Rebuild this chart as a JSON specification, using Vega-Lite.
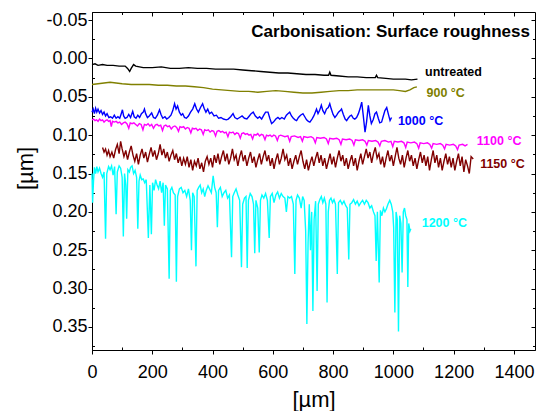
{
"$schema":"https://vega.github.io/schema/vega-lite/v6.json",
"width":443,"height":338,
"autosize":"none",
"padding":{"left":92,"top":12,"right":1,"bottom":61},
"background":"white",
"config":{"view":{"stroke":"black","strokeWidth":1},"font":"Liberation Sans",
 "axis":{"grid":false,"domainColor":"black","tickColor":"black","labelColor":"black","titleColor":"black","labelFontSize":18,"titleFontSize":22,"titleFontWeight":"normal","labelFlush":false,"labelOverlap":false,"tickWidth":1,"domainWidth":1}},
"title":{"text":"Carbonisation: Surface roughness","anchor":"end","frame":"group","fontSize":17,"fontWeight":"bold","color":"black","baseline":"top","offset":-30,"dx":-5},
"datasets":{
"lines":[
{"s":"untreated","x":0,"y":0.008},{"s":"untreated","x":10,"y":0.007},{"s":"untreated","x":20,"y":0.009},{"s":"untreated","x":35,"y":0.008},{"s":"untreated","x":50,"y":0.009},{"s":"untreated","x":70,"y":0.009},{"s":"untreated","x":90,"y":0.010},{"s":"untreated","x":110,"y":0.010},{"s":"untreated","x":118,"y":0.013},{"s":"untreated","x":125,"y":0.017},{"s":"untreated","x":130,"y":0.013},{"s":"untreated","x":138,"y":0.008},{"s":"untreated","x":145,"y":0.010},{"s":"untreated","x":170,"y":0.012},{"s":"untreated","x":200,"y":0.012},{"s":"untreated","x":230,"y":0.011},{"s":"untreated","x":260,"y":0.013},{"s":"untreated","x":290,"y":0.013},{"s":"untreated","x":320,"y":0.012},{"s":"untreated","x":350,"y":0.013},{"s":"untreated","x":380,"y":0.013},{"s":"untreated","x":410,"y":0.014},{"s":"untreated","x":440,"y":0.014},{"s":"untreated","x":470,"y":0.014},{"s":"untreated","x":500,"y":0.015},{"s":"untreated","x":530,"y":0.016},{"s":"untreated","x":560,"y":0.017},{"s":"untreated","x":590,"y":0.018},{"s":"untreated","x":620,"y":0.019},{"s":"untreated","x":650,"y":0.019},{"s":"untreated","x":680,"y":0.020},{"s":"untreated","x":710,"y":0.021},{"s":"untreated","x":740,"y":0.021},{"s":"untreated","x":770,"y":0.022},{"s":"untreated","x":785,"y":0.022},{"s":"untreated","x":789,"y":0.018},{"s":"untreated","x":793,"y":0.022},{"s":"untreated","x":820,"y":0.023},{"s":"untreated","x":850,"y":0.024},{"s":"untreated","x":880,"y":0.024},{"s":"untreated","x":910,"y":0.025},{"s":"untreated","x":940,"y":0.025},{"s":"untreated","x":944,"y":0.022},{"s":"untreated","x":948,"y":0.025},{"s":"untreated","x":975,"y":0.026},{"s":"untreated","x":1000,"y":0.027},{"s":"untreated","x":1020,"y":0.027},{"s":"untreated","x":1040,"y":0.027},{"s":"untreated","x":1060,"y":0.028},{"s":"untreated","x":1080,"y":0.027},
{"s":"900","x":0,"y":0.034},{"s":"900","x":20,"y":0.033},{"s":"900","x":40,"y":0.032},{"s":"900","x":60,"y":0.031},{"s":"900","x":80,"y":0.032},{"s":"900","x":100,"y":0.033},{"s":"900","x":130,"y":0.034},{"s":"900","x":160,"y":0.034},{"s":"900","x":190,"y":0.034},{"s":"900","x":220,"y":0.035},{"s":"900","x":250,"y":0.035},{"s":"900","x":280,"y":0.036},{"s":"900","x":310,"y":0.036},{"s":"900","x":340,"y":0.037},{"s":"900","x":370,"y":0.038},{"s":"900","x":400,"y":0.040},{"s":"900","x":430,"y":0.041},{"s":"900","x":460,"y":0.042},{"s":"900","x":490,"y":0.043},{"s":"900","x":520,"y":0.043},{"s":"900","x":550,"y":0.044},{"s":"900","x":580,"y":0.043},{"s":"900","x":610,"y":0.042},{"s":"900","x":640,"y":0.043},{"s":"900","x":670,"y":0.044},{"s":"900","x":700,"y":0.045},{"s":"900","x":730,"y":0.045},{"s":"900","x":760,"y":0.044},{"s":"900","x":790,"y":0.043},{"s":"900","x":820,"y":0.042},{"s":"900","x":850,"y":0.042},{"s":"900","x":880,"y":0.041},{"s":"900","x":910,"y":0.041},{"s":"900","x":940,"y":0.041},{"s":"900","x":970,"y":0.041},{"s":"900","x":1000,"y":0.041},{"s":"900","x":1020,"y":0.042},{"s":"900","x":1040,"y":0.043},{"s":"900","x":1055,"y":0.041},{"s":"900","x":1068,"y":0.038},{"s":"900","x":1078,"y":0.037},
{"s":"1000","x":0,"y":0.070},{"s":"1000","x":4,"y":0.066},{"s":"1000","x":8,"y":0.072},{"s":"1000","x":12,"y":0.065},{"s":"1000","x":16,"y":0.070},{"s":"1000","x":20,"y":0.066},{"s":"1000","x":25,"y":0.071},{"s":"1000","x":30,"y":0.068},{"s":"1000","x":35,"y":0.073},{"s":"1000","x":40,"y":0.070},{"s":"1000","x":45,"y":0.075},{"s":"1000","x":50,"y":0.072},{"s":"1000","x":56,"y":0.077},{"s":"1000","x":62,"y":0.076},{"s":"1000","x":68,"y":0.078},{"s":"1000","x":74,"y":0.074},{"s":"1000","x":80,"y":0.078},{"s":"1000","x":86,"y":0.076},{"s":"1000","x":92,"y":0.078},{"s":"1000","x":97,"y":0.072},{"s":"1000","x":101,"y":0.067},{"s":"1000","x":105,"y":0.075},{"s":"1000","x":110,"y":0.078},{"s":"1000","x":116,"y":0.077},{"s":"1000","x":122,"y":0.073},{"s":"1000","x":128,"y":0.077},{"s":"1000","x":135,"y":0.069},{"s":"1000","x":140,"y":0.076},{"s":"1000","x":146,"y":0.078},{"s":"1000","x":152,"y":0.074},{"s":"1000","x":158,"y":0.077},{"s":"1000","x":164,"y":0.072},{"s":"1000","x":170,"y":0.070},{"s":"1000","x":174,"y":0.066},{"s":"1000","x":178,"y":0.072},{"s":"1000","x":184,"y":0.077},{"s":"1000","x":190,"y":0.075},{"s":"1000","x":198,"y":0.071},{"s":"1000","x":204,"y":0.077},{"s":"1000","x":210,"y":0.078},{"s":"1000","x":217,"y":0.074},{"s":"1000","x":224,"y":0.067},{"s":"1000","x":229,"y":0.073},{"s":"1000","x":235,"y":0.078},{"s":"1000","x":242,"y":0.076},{"s":"1000","x":248,"y":0.079},{"s":"1000","x":255,"y":0.077},{"s":"1000","x":262,"y":0.074},{"s":"1000","x":268,"y":0.068},{"s":"1000","x":274,"y":0.059},{"s":"1000","x":279,"y":0.066},{"s":"1000","x":284,"y":0.062},{"s":"1000","x":290,"y":0.070},{"s":"1000","x":296,"y":0.074},{"s":"1000","x":301,"y":0.072},{"s":"1000","x":307,"y":0.077},{"s":"1000","x":313,"y":0.078},{"s":"1000","x":320,"y":0.075},{"s":"1000","x":327,"y":0.070},{"s":"1000","x":334,"y":0.066},{"s":"1000","x":341,"y":0.059},{"s":"1000","x":347,"y":0.066},{"s":"1000","x":353,"y":0.070},{"s":"1000","x":360,"y":0.064},{"s":"1000","x":367,"y":0.059},{"s":"1000","x":372,"y":0.065},{"s":"1000","x":378,"y":0.070},{"s":"1000","x":384,"y":0.066},{"s":"1000","x":390,"y":0.072},{"s":"1000","x":397,"y":0.070},{"s":"1000","x":405,"y":0.075},{"s":"1000","x":413,"y":0.074},{"s":"1000","x":420,"y":0.078},{"s":"1000","x":428,"y":0.077},{"s":"1000","x":436,"y":0.079},{"s":"1000","x":446,"y":0.080},{"s":"1000","x":452,"y":0.079},{"s":"1000","x":460,"y":0.076},{"s":"1000","x":468,"y":0.072},{"s":"1000","x":474,"y":0.077},{"s":"1000","x":482,"y":0.079},{"s":"1000","x":490,"y":0.077},{"s":"1000","x":498,"y":0.075},{"s":"1000","x":506,"y":0.078},{"s":"1000","x":514,"y":0.079},{"s":"1000","x":522,"y":0.075},{"s":"1000","x":528,"y":0.072},{"s":"1000","x":535,"y":0.070},{"s":"1000","x":542,"y":0.075},{"s":"1000","x":550,"y":0.078},{"s":"1000","x":556,"y":0.076},{"s":"1000","x":563,"y":0.079},{"s":"1000","x":570,"y":0.074},{"s":"1000","x":576,"y":0.070},{"s":"1000","x":584,"y":0.070},{"s":"1000","x":590,"y":0.078},{"s":"1000","x":596,"y":0.085},{"s":"1000","x":602,"y":0.083},{"s":"1000","x":610,"y":0.079},{"s":"1000","x":617,"y":0.077},{"s":"1000","x":623,"y":0.079},{"s":"1000","x":630,"y":0.077},{"s":"1000","x":638,"y":0.079},{"s":"1000","x":645,"y":0.074},{"s":"1000","x":650,"y":0.072},{"s":"1000","x":656,"y":0.070},{"s":"1000","x":662,"y":0.075},{"s":"1000","x":668,"y":0.078},{"s":"1000","x":674,"y":0.080},{"s":"1000","x":679,"y":0.081},{"s":"1000","x":685,"y":0.077},{"s":"1000","x":692,"y":0.074},{"s":"1000","x":700,"y":0.072},{"s":"1000","x":706,"y":0.076},{"s":"1000","x":712,"y":0.080},{"s":"1000","x":718,"y":0.082},{"s":"1000","x":723,"y":0.083},{"s":"1000","x":730,"y":0.079},{"s":"1000","x":736,"y":0.075},{"s":"1000","x":741,"y":0.070},{"s":"1000","x":745,"y":0.066},{"s":"1000","x":750,"y":0.072},{"s":"1000","x":755,"y":0.068},{"s":"1000","x":761,"y":0.061},{"s":"1000","x":766,"y":0.068},{"s":"1000","x":772,"y":0.072},{"s":"1000","x":778,"y":0.066},{"s":"1000","x":784,"y":0.064},{"s":"1000","x":789,"y":0.059},{"s":"1000","x":794,"y":0.066},{"s":"1000","x":800,"y":0.073},{"s":"1000","x":806,"y":0.077},{"s":"1000","x":812,"y":0.074},{"s":"1000","x":818,"y":0.070},{"s":"1000","x":824,"y":0.068},{"s":"1000","x":828,"y":0.066},{"s":"1000","x":834,"y":0.073},{"s":"1000","x":840,"y":0.079},{"s":"1000","x":845,"y":0.081},{"s":"1000","x":850,"y":0.078},{"s":"1000","x":856,"y":0.075},{"s":"1000","x":861,"y":0.074},{"s":"1000","x":867,"y":0.078},{"s":"1000","x":872,"y":0.079},{"s":"1000","x":878,"y":0.077},{"s":"1000","x":884,"y":0.072},{"s":"1000","x":889,"y":0.066},{"s":"1000","x":895,"y":0.057},{"s":"1000","x":900,"y":0.074},{"s":"1000","x":906,"y":0.096},{"s":"1000","x":911,"y":0.083},{"s":"1000","x":917,"y":0.061},{"s":"1000","x":922,"y":0.075},{"s":"1000","x":927,"y":0.085},{"s":"1000","x":933,"y":0.080},{"s":"1000","x":939,"y":0.072},{"s":"1000","x":944,"y":0.070},{"s":"1000","x":950,"y":0.078},{"s":"1000","x":955,"y":0.084},{"s":"1000","x":961,"y":0.083},{"s":"1000","x":966,"y":0.076},{"s":"1000","x":972,"y":0.068},{"s":"1000","x":978,"y":0.064},{"s":"1000","x":983,"y":0.072},{"s":"1000","x":989,"y":0.081},{"s":"1000","x":994,"y":0.077},
{"s":"1100","x":0,"y":0.080},{"s":"1100","x":5,"y":0.079},{"s":"1100","x":10,"y":0.081},{"s":"1100","x":15,"y":0.080},{"s":"1100","x":20,"y":0.082},{"s":"1100","x":25,"y":0.079},{"s":"1100","x":30,"y":0.081},{"s":"1100","x":35,"y":0.080},{"s":"1100","x":40,"y":0.083},{"s":"1100","x":45,"y":0.081},{"s":"1100","x":50,"y":0.080},{"s":"1100","x":55,"y":0.082},{"s":"1100","x":60,"y":0.081},{"s":"1100","x":64,"y":0.089},{"s":"1100","x":68,"y":0.082},{"s":"1100","x":74,"y":0.083},{"s":"1100","x":80,"y":0.082},{"s":"1100","x":86,"y":0.084},{"s":"1100","x":92,"y":0.083},{"s":"1100","x":98,"y":0.086},{"s":"1100","x":104,"y":0.084},{"s":"1100","x":110,"y":0.083},{"s":"1100","x":116,"y":0.085},{"s":"1100","x":122,"y":0.091},{"s":"1100","x":127,"y":0.084},{"s":"1100","x":133,"y":0.085},{"s":"1100","x":139,"y":0.084},{"s":"1100","x":145,"y":0.086},{"s":"1100","x":151,"y":0.088},{"s":"1100","x":157,"y":0.085},{"s":"1100","x":163,"y":0.086},{"s":"1100","x":169,"y":0.093},{"s":"1100","x":174,"y":0.086},{"s":"1100","x":180,"y":0.087},{"s":"1100","x":186,"y":0.085},{"s":"1100","x":192,"y":0.088},{"s":"1100","x":198,"y":0.086},{"s":"1100","x":204,"y":0.091},{"s":"1100","x":210,"y":0.087},{"s":"1100","x":216,"y":0.086},{"s":"1100","x":222,"y":0.088},{"s":"1100","x":228,"y":0.087},{"s":"1100","x":234,"y":0.094},{"s":"1100","x":239,"y":0.088},{"s":"1100","x":245,"y":0.087},{"s":"1100","x":251,"y":0.089},{"s":"1100","x":257,"y":0.088},{"s":"1100","x":263,"y":0.092},{"s":"1100","x":269,"y":0.089},{"s":"1100","x":275,"y":0.088},{"s":"1100","x":281,"y":0.090},{"s":"1100","x":287,"y":0.095},{"s":"1100","x":292,"y":0.089},{"s":"1100","x":298,"y":0.090},{"s":"1100","x":304,"y":0.089},{"s":"1100","x":310,"y":0.092},{"s":"1100","x":316,"y":0.090},{"s":"1100","x":322,"y":0.091},{"s":"1100","x":328,"y":0.097},{"s":"1100","x":333,"y":0.091},{"s":"1100","x":339,"y":0.092},{"s":"1100","x":345,"y":0.091},{"s":"1100","x":351,"y":0.094},{"s":"1100","x":357,"y":0.092},{"s":"1100","x":363,"y":0.093},{"s":"1100","x":369,"y":0.099},{"s":"1100","x":374,"y":0.093},{"s":"1100","x":380,"y":0.094},{"s":"1100","x":386,"y":0.093},{"s":"1100","x":392,"y":0.096},{"s":"1100","x":398,"y":0.094},{"s":"1100","x":404,"y":0.095},{"s":"1100","x":410,"y":0.101},{"s":"1100","x":415,"y":0.095},{"s":"1100","x":421,"y":0.094},{"s":"1100","x":427,"y":0.096},{"s":"1100","x":433,"y":0.095},{"s":"1100","x":439,"y":0.097},{"s":"1100","x":445,"y":0.096},{"s":"1100","x":451,"y":0.102},{"s":"1100","x":456,"y":0.096},{"s":"1100","x":462,"y":0.097},{"s":"1100","x":468,"y":0.096},{"s":"1100","x":474,"y":0.099},{"s":"1100","x":480,"y":0.097},{"s":"1100","x":486,"y":0.098},{"s":"1100","x":492,"y":0.104},{"s":"1100","x":497,"y":0.098},{"s":"1100","x":503,"y":0.097},{"s":"1100","x":509,"y":0.099},{"s":"1100","x":515,"y":0.098},{"s":"1100","x":521,"y":0.100},{"s":"1100","x":527,"y":0.099},{"s":"1100","x":533,"y":0.105},{"s":"1100","x":538,"y":0.099},{"s":"1100","x":544,"y":0.100},{"s":"1100","x":550,"y":0.098},{"s":"1100","x":556,"y":0.101},{"s":"1100","x":562,"y":0.099},{"s":"1100","x":568,"y":0.100},{"s":"1100","x":574,"y":0.106},{"s":"1100","x":579,"y":0.100},{"s":"1100","x":585,"y":0.101},{"s":"1100","x":591,"y":0.100},{"s":"1100","x":597,"y":0.102},{"s":"1100","x":603,"y":0.100},{"s":"1100","x":609,"y":0.101},{"s":"1100","x":615,"y":0.107},{"s":"1100","x":620,"y":0.101},{"s":"1100","x":626,"y":0.100},{"s":"1100","x":640,"y":0.102},{"s":"1100","x":650,"y":0.101},{"s":"1100","x":656,"y":0.108},{"s":"1100","x":661,"y":0.102},{"s":"1100","x":672,"y":0.101},{"s":"1100","x":684,"y":0.103},{"s":"1100","x":692,"y":0.102},{"s":"1100","x":698,"y":0.108},{"s":"1100","x":703,"y":0.102},{"s":"1100","x":715,"y":0.103},{"s":"1100","x":727,"y":0.102},{"s":"1100","x":735,"y":0.104},{"s":"1100","x":741,"y":0.110},{"s":"1100","x":746,"y":0.103},{"s":"1100","x":758,"y":0.104},{"s":"1100","x":770,"y":0.103},{"s":"1100","x":778,"y":0.105},{"s":"1100","x":784,"y":0.111},{"s":"1100","x":789,"y":0.104},{"s":"1100","x":800,"y":0.105},{"s":"1100","x":812,"y":0.104},{"s":"1100","x":820,"y":0.106},{"s":"1100","x":826,"y":0.112},{"s":"1100","x":831,"y":0.105},{"s":"1100","x":843,"y":0.106},{"s":"1100","x":855,"y":0.105},{"s":"1100","x":863,"y":0.107},{"s":"1100","x":869,"y":0.113},{"s":"1100","x":874,"y":0.106},{"s":"1100","x":886,"y":0.107},{"s":"1100","x":898,"y":0.106},{"s":"1100","x":906,"y":0.108},{"s":"1100","x":912,"y":0.113},{"s":"1100","x":917,"y":0.107},{"s":"1100","x":929,"y":0.108},{"s":"1100","x":941,"y":0.107},{"s":"1100","x":949,"y":0.109},{"s":"1100","x":955,"y":0.114},{"s":"1100","x":960,"y":0.108},{"s":"1100","x":972,"y":0.107},{"s":"1100","x":984,"y":0.109},{"s":"1100","x":992,"y":0.108},{"s":"1100","x":998,"y":0.115},{"s":"1100","x":1003,"y":0.108},{"s":"1100","x":1015,"y":0.109},{"s":"1100","x":1027,"y":0.108},{"s":"1100","x":1035,"y":0.110},{"s":"1100","x":1041,"y":0.116},{"s":"1100","x":1046,"y":0.109},{"s":"1100","x":1058,"y":0.110},{"s":"1100","x":1070,"y":0.109},{"s":"1100","x":1078,"y":0.111},{"s":"1100","x":1084,"y":0.117},{"s":"1100","x":1089,"y":0.110},{"s":"1100","x":1101,"y":0.111},{"s":"1100","x":1113,"y":0.110},{"s":"1100","x":1121,"y":0.112},{"s":"1100","x":1127,"y":0.117},{"s":"1100","x":1132,"y":0.111},{"s":"1100","x":1144,"y":0.112},{"s":"1100","x":1156,"y":0.111},{"s":"1100","x":1164,"y":0.113},{"s":"1100","x":1170,"y":0.118},{"s":"1100","x":1175,"y":0.112},{"s":"1100","x":1187,"y":0.113},{"s":"1100","x":1199,"y":0.112},{"s":"1100","x":1207,"y":0.114},{"s":"1100","x":1213,"y":0.119},{"s":"1100","x":1218,"y":0.113},{"s":"1100","x":1230,"y":0.112},{"s":"1100","x":1238,"y":0.114},{"s":"1100","x":1246,"y":0.112},
{"s":"1150","x":35,"y":0.116},{"s":"1150","x":40,"y":0.122},{"s":"1150","x":45,"y":0.118},{"s":"1150","x":50,"y":0.126},{"s":"1150","x":55,"y":0.120},{"s":"1150","x":60,"y":0.128},{"s":"1150","x":66,"y":0.122},{"s":"1150","x":72,"y":0.130},{"s":"1150","x":78,"y":0.119},{"s":"1150","x":84,"y":0.112},{"s":"1150","x":90,"y":0.124},{"s":"1150","x":95,"y":0.108},{"s":"1150","x":100,"y":0.118},{"s":"1150","x":106,"y":0.128},{"s":"1150","x":112,"y":0.120},{"s":"1150","x":118,"y":0.132},{"s":"1150","x":124,"y":0.122},{"s":"1150","x":130,"y":0.114},{"s":"1150","x":136,"y":0.126},{"s":"1150","x":142,"y":0.134},{"s":"1150","x":148,"y":0.124},{"s":"1150","x":154,"y":0.138},{"s":"1150","x":160,"y":0.126},{"s":"1150","x":166,"y":0.118},{"s":"1150","x":172,"y":0.130},{"s":"1150","x":178,"y":0.122},{"s":"1150","x":184,"y":0.135},{"s":"1150","x":190,"y":0.125},{"s":"1150","x":196,"y":0.116},{"s":"1150","x":202,"y":0.128},{"s":"1150","x":208,"y":0.120},{"s":"1150","x":214,"y":0.132},{"s":"1150","x":220,"y":0.124},{"s":"1150","x":226,"y":0.112},{"s":"1150","x":232,"y":0.126},{"s":"1150","x":238,"y":0.118},{"s":"1150","x":244,"y":0.130},{"s":"1150","x":250,"y":0.122},{"s":"1150","x":256,"y":0.134},{"s":"1150","x":262,"y":0.126},{"s":"1150","x":268,"y":0.120},{"s":"1150","x":274,"y":0.132},{"s":"1150","x":280,"y":0.124},{"s":"1150","x":286,"y":0.136},{"s":"1150","x":292,"y":0.128},{"s":"1150","x":298,"y":0.140},{"s":"1150","x":304,"y":0.130},{"s":"1150","x":310,"y":0.138},{"s":"1150","x":316,"y":0.128},{"s":"1150","x":322,"y":0.142},{"s":"1150","x":328,"y":0.132},{"s":"1150","x":334,"y":0.146},{"s":"1150","x":340,"y":0.134},{"s":"1150","x":346,"y":0.140},{"s":"1150","x":352,"y":0.130},{"s":"1150","x":358,"y":0.144},{"s":"1150","x":364,"y":0.136},{"s":"1150","x":370,"y":0.148},{"s":"1150","x":376,"y":0.134},{"s":"1150","x":382,"y":0.128},{"s":"1150","x":388,"y":0.138},{"s":"1150","x":394,"y":0.130},{"s":"1150","x":400,"y":0.142},{"s":"1150","x":406,"y":0.126},{"s":"1150","x":412,"y":0.136},{"s":"1150","x":418,"y":0.124},{"s":"1150","x":424,"y":0.138},{"s":"1150","x":430,"y":0.128},{"s":"1150","x":436,"y":0.120},{"s":"1150","x":442,"y":0.134},{"s":"1150","x":448,"y":0.124},{"s":"1150","x":454,"y":0.138},{"s":"1150","x":460,"y":0.130},{"s":"1150","x":466,"y":0.118},{"s":"1150","x":472,"y":0.132},{"s":"1150","x":478,"y":0.126},{"s":"1150","x":484,"y":0.140},{"s":"1150","x":490,"y":0.128},{"s":"1150","x":496,"y":0.120},{"s":"1150","x":502,"y":0.134},{"s":"1150","x":508,"y":0.126},{"s":"1150","x":514,"y":0.140},{"s":"1150","x":520,"y":0.130},{"s":"1150","x":526,"y":0.122},{"s":"1150","x":532,"y":0.136},{"s":"1150","x":538,"y":0.128},{"s":"1150","x":544,"y":0.142},{"s":"1150","x":550,"y":0.132},{"s":"1150","x":556,"y":0.124},{"s":"1150","x":562,"y":0.138},{"s":"1150","x":568,"y":0.128},{"s":"1150","x":574,"y":0.120},{"s":"1150","x":580,"y":0.134},{"s":"1150","x":586,"y":0.126},{"s":"1150","x":592,"y":0.140},{"s":"1150","x":598,"y":0.130},{"s":"1150","x":604,"y":0.144},{"s":"1150","x":610,"y":0.132},{"s":"1150","x":616,"y":0.124},{"s":"1150","x":622,"y":0.138},{"s":"1150","x":628,"y":0.130},{"s":"1150","x":634,"y":0.118},{"s":"1150","x":640,"y":0.132},{"s":"1150","x":646,"y":0.126},{"s":"1150","x":652,"y":0.140},{"s":"1150","x":658,"y":0.130},{"s":"1150","x":664,"y":0.144},{"s":"1150","x":670,"y":0.134},{"s":"1150","x":676,"y":0.126},{"s":"1150","x":682,"y":0.138},{"s":"1150","x":688,"y":0.128},{"s":"1150","x":694,"y":0.120},{"s":"1150","x":700,"y":0.134},{"s":"1150","x":706,"y":0.144},{"s":"1150","x":712,"y":0.132},{"s":"1150","x":718,"y":0.146},{"s":"1150","x":724,"y":0.136},{"s":"1150","x":730,"y":0.128},{"s":"1150","x":736,"y":0.140},{"s":"1150","x":742,"y":0.130},{"s":"1150","x":748,"y":0.122},{"s":"1150","x":754,"y":0.136},{"s":"1150","x":760,"y":0.126},{"s":"1150","x":766,"y":0.140},{"s":"1150","x":772,"y":0.130},{"s":"1150","x":778,"y":0.144},{"s":"1150","x":784,"y":0.134},{"s":"1150","x":790,"y":0.124},{"s":"1150","x":796,"y":0.138},{"s":"1150","x":802,"y":0.128},{"s":"1150","x":808,"y":0.142},{"s":"1150","x":814,"y":0.130},{"s":"1150","x":820,"y":0.120},{"s":"1150","x":826,"y":0.134},{"s":"1150","x":832,"y":0.126},{"s":"1150","x":838,"y":0.140},{"s":"1150","x":844,"y":0.130},{"s":"1150","x":850,"y":0.144},{"s":"1150","x":856,"y":0.134},{"s":"1150","x":862,"y":0.126},{"s":"1150","x":868,"y":0.140},{"s":"1150","x":874,"y":0.130},{"s":"1150","x":880,"y":0.146},{"s":"1150","x":886,"y":0.134},{"s":"1150","x":892,"y":0.124},{"s":"1150","x":898,"y":0.138},{"s":"1150","x":904,"y":0.128},{"s":"1150","x":910,"y":0.118},{"s":"1150","x":916,"y":0.130},{"s":"1150","x":922,"y":0.122},{"s":"1150","x":928,"y":0.136},{"s":"1150","x":934,"y":0.124},{"s":"1150","x":940,"y":0.116},{"s":"1150","x":946,"y":0.130},{"s":"1150","x":952,"y":0.124},{"s":"1150","x":958,"y":0.138},{"s":"1150","x":964,"y":0.128},{"s":"1150","x":970,"y":0.142},{"s":"1150","x":976,"y":0.130},{"s":"1150","x":982,"y":0.120},{"s":"1150","x":988,"y":0.134},{"s":"1150","x":994,"y":0.126},{"s":"1150","x":1000,"y":0.140},{"s":"1150","x":1006,"y":0.128},{"s":"1150","x":1012,"y":0.116},{"s":"1150","x":1018,"y":0.130},{"s":"1150","x":1024,"y":0.138},{"s":"1150","x":1030,"y":0.126},{"s":"1150","x":1036,"y":0.142},{"s":"1150","x":1042,"y":0.130},{"s":"1150","x":1048,"y":0.120},{"s":"1150","x":1054,"y":0.134},{"s":"1150","x":1060,"y":0.126},{"s":"1150","x":1066,"y":0.140},{"s":"1150","x":1072,"y":0.130},{"s":"1150","x":1078,"y":0.144},{"s":"1150","x":1084,"y":0.132},{"s":"1150","x":1090,"y":0.122},{"s":"1150","x":1096,"y":0.136},{"s":"1150","x":1102,"y":0.126},{"s":"1150","x":1108,"y":0.140},{"s":"1150","x":1114,"y":0.128},{"s":"1150","x":1120,"y":0.146},{"s":"1150","x":1126,"y":0.132},{"s":"1150","x":1132,"y":0.120},{"s":"1150","x":1138,"y":0.136},{"s":"1150","x":1144,"y":0.126},{"s":"1150","x":1150,"y":0.142},{"s":"1150","x":1156,"y":0.130},{"s":"1150","x":1162,"y":0.146},{"s":"1150","x":1168,"y":0.134},{"s":"1150","x":1174,"y":0.124},{"s":"1150","x":1180,"y":0.138},{"s":"1150","x":1186,"y":0.128},{"s":"1150","x":1192,"y":0.142},{"s":"1150","x":1198,"y":0.130},{"s":"1150","x":1204,"y":0.146},{"s":"1150","x":1210,"y":0.134},{"s":"1150","x":1216,"y":0.124},{"s":"1150","x":1222,"y":0.140},{"s":"1150","x":1228,"y":0.128},{"s":"1150","x":1234,"y":0.148},{"s":"1150","x":1240,"y":0.132},{"s":"1150","x":1246,"y":0.140},{"s":"1150","x":1252,"y":0.150},{"s":"1150","x":1258,"y":0.128},{"s":"1150","x":1265,"y":0.131},
{"s":"1200","x":0,"y":0.150},{"s":"1200","x":2,"y":0.188},{"s":"1200","x":5,"y":0.160},{"s":"1200","x":8,"y":0.142},{"s":"1200","x":12,"y":0.150},{"s":"1200","x":16,"y":0.141},{"s":"1200","x":20,"y":0.148},{"s":"1200","x":25,"y":0.143},{"s":"1200","x":30,"y":0.150},{"s":"1200","x":35,"y":0.155},{"s":"1200","x":40,"y":0.148},{"s":"1200","x":45,"y":0.235},{"s":"1200","x":49,"y":0.150},{"s":"1200","x":55,"y":0.141},{"s":"1200","x":60,"y":0.145},{"s":"1200","x":65,"y":0.140},{"s":"1200","x":70,"y":0.152},{"s":"1200","x":75,"y":0.141},{"s":"1200","x":80,"y":0.203},{"s":"1200","x":84,"y":0.148},{"s":"1200","x":90,"y":0.140},{"s":"1200","x":95,"y":0.143},{"s":"1200","x":100,"y":0.155},{"s":"1200","x":104,"y":0.232},{"s":"1200","x":108,"y":0.150},{"s":"1200","x":112,"y":0.165},{"s":"1200","x":115,"y":0.209},{"s":"1200","x":119,"y":0.145},{"s":"1200","x":124,"y":0.148},{"s":"1200","x":128,"y":0.142},{"s":"1200","x":133,"y":0.140},{"s":"1200","x":138,"y":0.150},{"s":"1200","x":143,"y":0.146},{"s":"1200","x":148,"y":0.155},{"s":"1200","x":152,"y":0.222},{"s":"1200","x":156,"y":0.160},{"s":"1200","x":160,"y":0.152},{"s":"1200","x":165,"y":0.158},{"s":"1200","x":170,"y":0.157},{"s":"1200","x":175,"y":0.162},{"s":"1200","x":180,"y":0.158},{"s":"1200","x":187,"y":0.234},{"s":"1200","x":192,"y":0.165},{"s":"1200","x":197,"y":0.229},{"s":"1200","x":201,"y":0.162},{"s":"1200","x":206,"y":0.172},{"s":"1200","x":211,"y":0.158},{"s":"1200","x":216,"y":0.165},{"s":"1200","x":221,"y":0.170},{"s":"1200","x":226,"y":0.160},{"s":"1200","x":231,"y":0.175},{"s":"1200","x":236,"y":0.162},{"s":"1200","x":240,"y":0.218},{"s":"1200","x":244,"y":0.165},{"s":"1200","x":250,"y":0.170},{"s":"1200","x":256,"y":0.287},{"s":"1200","x":260,"y":0.172},{"s":"1200","x":265,"y":0.168},{"s":"1200","x":270,"y":0.175},{"s":"1200","x":276,"y":0.178},{"s":"1200","x":280,"y":0.291},{"s":"1200","x":284,"y":0.180},{"s":"1200","x":290,"y":0.170},{"s":"1200","x":296,"y":0.168},{"s":"1200","x":302,"y":0.175},{"s":"1200","x":308,"y":0.172},{"s":"1200","x":314,"y":0.180},{"s":"1200","x":320,"y":0.170},{"s":"1200","x":326,"y":0.185},{"s":"1200","x":330,"y":0.250},{"s":"1200","x":334,"y":0.175},{"s":"1200","x":339,"y":0.180},{"s":"1200","x":345,"y":0.271},{"s":"1200","x":349,"y":0.172},{"s":"1200","x":354,"y":0.168},{"s":"1200","x":359,"y":0.165},{"s":"1200","x":364,"y":0.175},{"s":"1200","x":369,"y":0.170},{"s":"1200","x":374,"y":0.180},{"s":"1200","x":379,"y":0.172},{"s":"1200","x":385,"y":0.166},{"s":"1200","x":390,"y":0.170},{"s":"1200","x":396,"y":0.175},{"s":"1200","x":402,"y":0.153},{"s":"1200","x":407,"y":0.168},{"s":"1200","x":412,"y":0.175},{"s":"1200","x":416,"y":0.220},{"s":"1200","x":420,"y":0.172},{"s":"1200","x":426,"y":0.168},{"s":"1200","x":432,"y":0.180},{"s":"1200","x":438,"y":0.175},{"s":"1200","x":444,"y":0.172},{"s":"1200","x":450,"y":0.182},{"s":"1200","x":456,"y":0.178},{"s":"1200","x":463,"y":0.259},{"s":"1200","x":467,"y":0.180},{"s":"1200","x":472,"y":0.175},{"s":"1200","x":478,"y":0.170},{"s":"1200","x":484,"y":0.178},{"s":"1200","x":490,"y":0.185},{"s":"1200","x":496,"y":0.272},{"s":"1200","x":500,"y":0.190},{"s":"1200","x":506,"y":0.182},{"s":"1200","x":511,"y":0.180},{"s":"1200","x":515,"y":0.273},{"s":"1200","x":519,"y":0.185},{"s":"1200","x":525,"y":0.176},{"s":"1200","x":531,"y":0.180},{"s":"1200","x":536,"y":0.190},{"s":"1200","x":540,"y":0.254},{"s":"1200","x":544,"y":0.185},{"s":"1200","x":550,"y":0.195},{"s":"1200","x":555,"y":0.253},{"s":"1200","x":559,"y":0.185},{"s":"1200","x":564,"y":0.178},{"s":"1200","x":570,"y":0.182},{"s":"1200","x":576,"y":0.176},{"s":"1200","x":582,"y":0.185},{"s":"1200","x":588,"y":0.234},{"s":"1200","x":592,"y":0.180},{"s":"1200","x":598,"y":0.176},{"s":"1200","x":604,"y":0.188},{"s":"1200","x":610,"y":0.178},{"s":"1200","x":616,"y":0.174},{"s":"1200","x":622,"y":0.182},{"s":"1200","x":628,"y":0.176},{"s":"1200","x":634,"y":0.180},{"s":"1200","x":640,"y":0.182},{"s":"1200","x":645,"y":0.200},{"s":"1200","x":650,"y":0.180},{"s":"1200","x":656,"y":0.182},{"s":"1200","x":662,"y":0.180},{"s":"1200","x":668,"y":0.190},{"s":"1200","x":673,"y":0.281},{"s":"1200","x":677,"y":0.185},{"s":"1200","x":682,"y":0.178},{"s":"1200","x":688,"y":0.182},{"s":"1200","x":694,"y":0.195},{"s":"1200","x":699,"y":0.180},{"s":"1200","x":704,"y":0.185},{"s":"1200","x":709,"y":0.225},{"s":"1200","x":713,"y":0.346},{"s":"1200","x":717,"y":0.240},{"s":"1200","x":721,"y":0.190},{"s":"1200","x":725,"y":0.250},{"s":"1200","x":729,"y":0.200},{"s":"1200","x":733,"y":0.329},{"s":"1200","x":737,"y":0.210},{"s":"1200","x":742,"y":0.186},{"s":"1200","x":747,"y":0.303},{"s":"1200","x":751,"y":0.190},{"s":"1200","x":756,"y":0.184},{"s":"1200","x":761,"y":0.180},{"s":"1200","x":766,"y":0.188},{"s":"1200","x":771,"y":0.182},{"s":"1200","x":776,"y":0.190},{"s":"1200","x":780,"y":0.318},{"s":"1200","x":784,"y":0.200},{"s":"1200","x":788,"y":0.185},{"s":"1200","x":793,"y":0.182},{"s":"1200","x":798,"y":0.188},{"s":"1200","x":803,"y":0.184},{"s":"1200","x":808,"y":0.190},{"s":"1200","x":814,"y":0.281},{"s":"1200","x":818,"y":0.188},{"s":"1200","x":824,"y":0.185},{"s":"1200","x":830,"y":0.190},{"s":"1200","x":836,"y":0.186},{"s":"1200","x":842,"y":0.192},{"s":"1200","x":847,"y":0.195},{"s":"1200","x":852,"y":0.262},{"s":"1200","x":856,"y":0.190},{"s":"1200","x":862,"y":0.188},{"s":"1200","x":868,"y":0.184},{"s":"1200","x":874,"y":0.190},{"s":"1200","x":880,"y":0.186},{"s":"1200","x":886,"y":0.192},{"s":"1200","x":892,"y":0.188},{"s":"1200","x":898,"y":0.185},{"s":"1200","x":904,"y":0.190},{"s":"1200","x":910,"y":0.185},{"s":"1200","x":916,"y":0.188},{"s":"1200","x":922,"y":0.195},{"s":"1200","x":928,"y":0.192},{"s":"1200","x":934,"y":0.200},{"s":"1200","x":939,"y":0.205},{"s":"1200","x":943,"y":0.264},{"s":"1200","x":947,"y":0.200},{"s":"1200","x":953,"y":0.292},{"s":"1200","x":957,"y":0.198},{"s":"1200","x":962,"y":0.205},{"s":"1200","x":967,"y":0.195},{"s":"1200","x":972,"y":0.200},{"s":"1200","x":977,"y":0.196},{"s":"1200","x":982,"y":0.190},{"s":"1200","x":988,"y":0.185},{"s":"1200","x":993,"y":0.190},{"s":"1200","x":998,"y":0.200},{"s":"1200","x":1001,"y":0.220},{"s":"1200","x":1005,"y":0.331},{"s":"1200","x":1009,"y":0.200},{"s":"1200","x":1013,"y":0.210},{"s":"1200","x":1017,"y":0.356},{"s":"1200","x":1021,"y":0.205},{"s":"1200","x":1025,"y":0.215},{"s":"1200","x":1029,"y":0.279},{"s":"1200","x":1033,"y":0.200},{"s":"1200","x":1037,"y":0.195},{"s":"1200","x":1041,"y":0.205},{"s":"1200","x":1045,"y":0.210},{"s":"1200","x":1048,"y":0.298},{"s":"1200","x":1051,"y":0.215},{"s":"1200","x":1055,"y":0.225},{"s":"1200","x":1058,"y":0.222}
],
"labels":[
{"s":"untreated","x":1105,"y":0.018,"t":"untreated"},
{"s":"900","x":1110,"y":0.045,"t":"900 °C"},
{"s":"1000","x":1015,"y":0.082,"t":"1000 °C"},
{"s":"1100","x":1277,"y":0.107,"t":"1100 °C"},
{"s":"1150","x":1288,"y":0.137,"t":"1150 °C"},
{"s":"1200","x":1094,"y":0.214,"t":"1200 °C"}
]},
"layer":[
{"data":{"name":"lines"},
 "mark":{"type":"line","strokeWidth":1.4},
 "encoding":{
  "x":{"field":"x","type":"quantitative","scale":{"domain":[0,1470],"nice":false,"zero":false},
   "axis":{"orient":"bottom","values":[0,100,200,300,400,500,600,700,800,900,1000,1100,1200,1300,1400],"format":"d","labelExpr":"datum.value % 200 === 0 ? datum.label : ''","tickSize":{"condition":{"test":"datum.value % 200 === 0","value":4},"value":-3},"labelPadding":9,"labelBaseline":"top","title":"[µm]","titleY":56,"titleBaseline":"alphabetic"}},
  "y":{"field":"y","type":"quantitative","scale":{"domain":[-0.0605,0.38],"nice":false,"zero":false,"reverse":true},
   "axis":{"orient":"left","values":[-0.05,-0.025,0,0.025,0.05,0.075,0.1,0.125,0.15,0.175,0.2,0.225,0.25,0.275,0.3,0.325,0.35,0.375],"labelExpr":"abs(round(datum.value*1000)) % 50 === 0 ? (datum.value < 0 ? '-' : '') + format(abs(datum.value), '.2f') : ''","tickSize":{"condition":{"test":"abs(round(datum.value*1000)) % 50 === 0","value":4},"value":-2.5},"labelPadding":1,"title":"[µm]","titleX":-67,"titleY":156,"titleAngle":-90,"titleAlign":"center","titleBaseline":"middle"}},
  "color":{"field":"s","type":"nominal","scale":{"domain":["untreated","900","1000","1100","1150","1200"],"range":["#000000","#808000","#0000ff","#ff00ff","#800000","#00ffff"]},"legend":null}
 }},
{"data":{"name":"labels"},
 "mark":{"type":"text","align":"left","baseline":"middle","fontWeight":"bold","fontSize":12.5},
 "encoding":{
  "x":{"field":"x","type":"quantitative","axis":{"orient":"top","values":[0,100,200,300,400,500,600,700,800,900,1000,1100,1200,1300,1400],"labels":false,"title":null,"domain":false,"tickSize":{"condition":{"test":"datum.value % 200 === 0","value":-4},"value":-2.5}}},
  "y":{"field":"y","type":"quantitative","axis":{"orient":"right","values":[-0.05,-0.025,0,0.025,0.05,0.075,0.1,0.125,0.15,0.175,0.2,0.225,0.25,0.275,0.3,0.325,0.35,0.375],"labels":false,"title":null,"domain":false,"tickSize":{"condition":{"test":"abs(round(datum.value*1000)) % 50 === 0","value":-4},"value":-2.5}}},
  "text":{"field":"t"},
  "color":{"field":"s","type":"nominal","legend":null}
 }}
],
"resolve":{"axis":{"x":"independent","y":"independent"}}
}
